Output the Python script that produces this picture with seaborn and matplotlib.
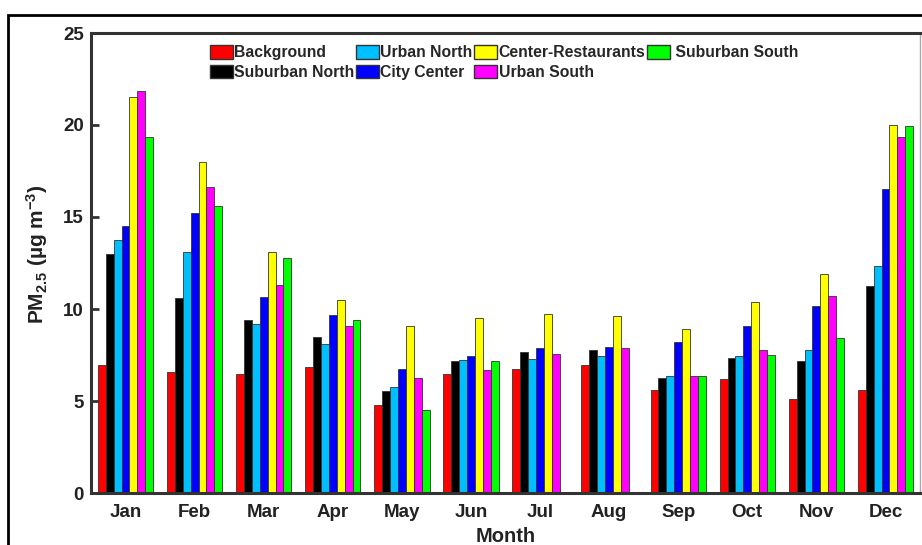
import numpy as np
import pandas as pd
import matplotlib
matplotlib.use("Agg")
import matplotlib.pyplot as plt
from matplotlib.patches import Rectangle
import seaborn as sns

months = ["Jan", "Feb", "Mar", "Apr", "May", "Jun", "Jul", "Aug", "Sep", "Oct", "Nov", "Dec"]
sites = ["Background", "Suburban North", "Urban North", "City Center",
         "Center-Restaurants", "Urban South", "Suburban South"]
colors = ["#FF0000", "#000000", "#00BFFF", "#0000FF", "#FFFF00", "#FF00FF", "#00FF00"]

background = [6.96, 6.56, 6.45, 6.85, 4.78, 6.47, 6.72, 6.96, 5.58, 6.21, 5.09, 5.58]
suburban_north = [12.97, 10.62, 9.38, 8.48, 5.53, 7.16, 7.68, 7.77, 6.27, 7.36, 7.16, 11.27]
urban_north = [13.73, 13.08, 9.17, 8.10, 5.74, 7.23, 7.28, 7.45, 6.34, 7.45, 7.77, 12.34]
city_center = [14.51, 15.20, 10.67, 9.66, 6.72, 7.46, 7.88, 7.93, 8.21, 9.06, 10.14, 16.52]
center_restaurants = [21.54, 18.01, 13.08, 10.49, 9.06, 9.49, 9.71, 9.60, 8.89, 10.36, 11.90, 20.00]
urban_south = [21.83, 16.61, 11.30, 9.08, 6.23, 6.68, 7.55, 7.88, 6.38, 7.75, 10.72, 19.35]
suburban_south = [19.35, 15.60, 12.79, 9.38, 4.49, 7.16, np.nan, np.nan, 6.38, 7.52, 8.41, 19.95]

series = [background, suburban_north, urban_north, city_center,
          center_restaurants, urban_south, suburban_south]

rows = []
for site, vals in zip(sites, series):
    for m, v in zip(months, vals):
        if not np.isnan(v):
            rows.append({"Month": m, "Site": site, "PM": v})
df = pd.DataFrame(rows)

sns.set_theme(style="white")
plt.rcParams["font.family"] = ["Liberation Sans", "DejaVu Sans"]
plt.rcParams["font.weight"] = "bold"
plt.rcParams["mathtext.fontset"] = "custom"
plt.rcParams["mathtext.rm"] = "Liberation Sans:bold"
plt.rcParams["mathtext.bf"] = "Liberation Sans:bold"
plt.rcParams["mathtext.it"] = "Liberation Sans:bold"
plt.rcParams["mathtext.default"] = "bf"

fig = plt.figure(figsize=(9.22, 5.45), dpi=100)
ax = fig.add_axes([91/922, 52/545, (920-91)/922, (493-33)/545])

sns.barplot(data=df, x="Month", y="PM", hue="Site", order=months, hue_order=sites,
            palette=colors, width=0.8, edgecolor="#333333", linewidth=0.6,
            saturation=1, ax=ax)

ax.set_xlim(-0.5, 11.5)
ax.set_ylim(0, 25)
ax.set_yticks([0, 5, 10, 15, 20, 25])
ax.set_xlabel("Month", fontsize=14.5, fontweight="bold", labelpad=4, color="#222222")
ax.set_ylabel("PM$_{2.5}$ (µg m$^{-3}$)", fontsize=15, fontweight="bold", labelpad=9, color="#222222")
ax.yaxis.set_label_coords(-0.0495, 0.52)

ax.tick_params(axis="x", direction="in", length=6, width=2, color="#333333",
               labelsize=13.5, pad=8, labelcolor="#222222", bottom=True)
ax.tick_params(axis="y", direction="in", length=6, width=2, color="#333333",
               labelsize=13.5, pad=5, labelcolor="#222222", left=True)
for lab in ax.get_xticklabels() + ax.get_yticklabels():
    lab.set_fontweight("bold")

for s in ["top", "bottom", "left"]:
    ax.spines[s].set_linewidth(2.2)
    ax.spines[s].set_color("#333333")
ax.spines["right"].set_linewidth(1)
ax.spines["right"].set_color("#aaaaaa")

handles, labels = ax.get_legend_handles_labels()
labels = [(" " + l if l == "Suburban South" else l) for l in labels]
ax.legend(handles, labels, ncol=4, loc="upper left",
          bbox_to_anchor=(210/922, 1 - 45/545), bbox_transform=fig.transFigure,
          frameon=False, handlelength=1.45, handleheight=0.95,
          handletextpad=0.1, columnspacing=0.1, labelspacing=0.3,
          borderaxespad=0, borderpad=0, prop={"weight": "bold", "size": 11.3})
for h in ax.get_legend().legend_handles:
    h.set_edgecolor("#333333")
    h.set_linewidth(1)

fig.patches.append(Rectangle((8/922, -0.2), 1.2, 1.2 - 15/545, transform=fig.transFigure,
                             fill=False, edgecolor="black", linewidth=2, clip_on=False))

fig.savefig("out.png", dpi=100, facecolor="white")
